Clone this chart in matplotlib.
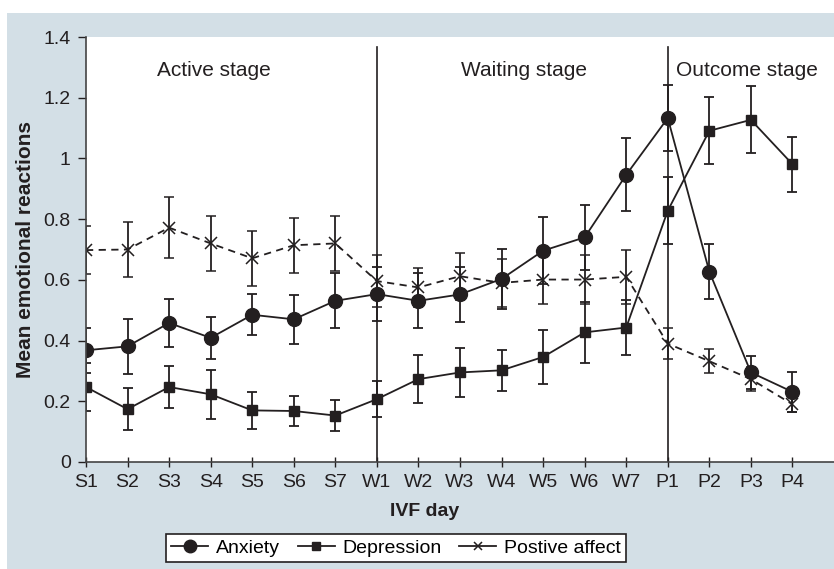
import numpy as np
import matplotlib
matplotlib.use("Agg")
import matplotlib.pyplot as plt
from matplotlib.patches import Rectangle
from matplotlib.lines import Line2D

plt.rcParams['font.family'] = ['Liberation Sans', 'DejaVu Sans']

days = ["S1", "S2", "S3", "S4", "S5", "S6", "S7",
        "W1", "W2", "W3", "W4", "W5", "W6", "W7",
        "P1", "P2", "P3", "P4"]

anxiety = [0.368, 0.381, 0.458, 0.409, 0.485, 0.470, 0.531, 0.553, 0.531,
           0.552, 0.603, 0.696, 0.740, 0.946, 1.133, 0.627, 0.295, 0.231]
anxiety_err = [0.075, 0.09, 0.08, 0.07, 0.068, 0.08, 0.09, 0.088, 0.09,
               0.09, 0.1, 0.11, 0.107, 0.12, 0.11, 0.09, 0.055, 0.065]

depression = [0.247, 0.174, 0.247, 0.223, 0.170, 0.168, 0.153, 0.207, 0.273,
              0.295, 0.302, 0.346, 0.427, 0.443, 0.828, 1.091, 1.127, 0.981]
depression_err = [0.08, 0.07, 0.07, 0.08, 0.06, 0.05, 0.05, 0.06, 0.08,
                  0.08, 0.068, 0.09, 0.1, 0.09, 0.11, 0.11, 0.11, 0.09]

positive = [0.698, 0.700, 0.772, 0.720, 0.671, 0.714, 0.720, 0.596, 0.575,
            0.612, 0.590, 0.601, 0.601, 0.610, 0.390, 0.332, 0.273, 0.190]
positive_err = [0.08, 0.09, 0.1, 0.09, 0.09, 0.09, 0.09, 0.085, 0.065,
                0.078, 0.08, 0.08, 0.08, 0.088, 0.05, 0.04, 0.04, 0.025]

stages = ["Active stage", "Waiting stage", "Outcome stage"]
stage_pos = [3.07, 10.54, 15.9]
stage_breaks = [7, 14]

ink = "#231f20"
panel = "#d3dfe6"

fig = plt.figure(figsize=(8.34, 5.69), dpi=100)
fig.patches.append(Rectangle((7 / 834, 0), 1, 1 - 13 / 569, transform=fig.transFigure,
                             facecolor=panel, edgecolor="none", zorder=-10))

ax = fig.add_axes([86 / 834, 1 - 462 / 569, 1 - 86 / 834, (462 - 37) / 569])
ax.set_facecolor("white")
x = np.arange(len(days))

common = dict(color=ink, lw=1.3, capsize=3.5, elinewidth=1.3, capthick=1.3)
ax.errorbar(x, positive, yerr=positive_err, marker="x", ms=9, mew=1.1,
            ls=(0, (4, 3)), **common)
ax.errorbar(x, depression, yerr=depression_err, marker="s", ms=7, **common)
ax.errorbar(x, anxiety, yerr=anxiety_err, marker="o", ms=10, **common)

for b in stage_breaks:
    ax.plot([b, b], [0, 1.367], color=ink, lw=1.2, zorder=1)
for name, pos in zip(stages, stage_pos):
    ax.text(pos, 1.29, name, ha="center", va="center", fontsize=15, color=ink)

ax.set_xlim(0, 18.0)
ax.set_ylim(0, 1.4)
ax.set_xticks(x)
ax.set_xticklabels(days)
ax.set_yticks([0, 0.2, 0.4, 0.6, 0.8, 1.0, 1.2, 1.4])
ax.set_yticklabels(["0", "0.2", "0.4", "0.6", "0.8", "1", "1.2", "1.4"])
ax.tick_params(axis="x", direction="inout", length=7, width=1, colors=ink,
               labelsize=14, pad=5)
ax.tick_params(axis="y", direction="out", length=6, width=1, colors=ink,
               labelsize=14, pad=5)
for s in ["top", "right"]:
    ax.spines[s].set_visible(False)
for s in ["left", "bottom"]:
    ax.spines[s].set_color("#444444")
    ax.spines[s].set_linewidth(1.2)

ax.set_ylabel("Mean emotional reactions", fontsize=15, fontweight="bold",
              color=ink, labelpad=6)
fig.text(425 / 834, 1 - 512 / 569, "IVF day", ha="center", va="center",
         fontsize=14, fontweight="bold", color=ink)

handles = [
    Line2D([], [], color=ink, lw=1.3, marker="o", ms=9),
    Line2D([], [], color=ink, lw=1.3, marker="s", ms=6),
    Line2D([], [], color=ink, lw=1.3, marker="x", ms=6, mew=1.1),
]
leg = fig.legend(handles, ["Anxiety", "Depression", "Postive affect"],
                 loc="center", bbox_to_anchor=(396 / 834, 1 - 548 / 569),
                 ncol=3, fontsize=14, frameon=True, fancybox=False,
                 handlelength=1.9, handletextpad=0.4, columnspacing=0.9,
                 borderpad=0.25)
leg.get_frame().set_edgecolor(ink)
leg.get_frame().set_linewidth(1.2)
leg.get_frame().set_facecolor("white")
leg.get_frame().set_alpha(1)

fig.savefig("out.png", dpi=100)
